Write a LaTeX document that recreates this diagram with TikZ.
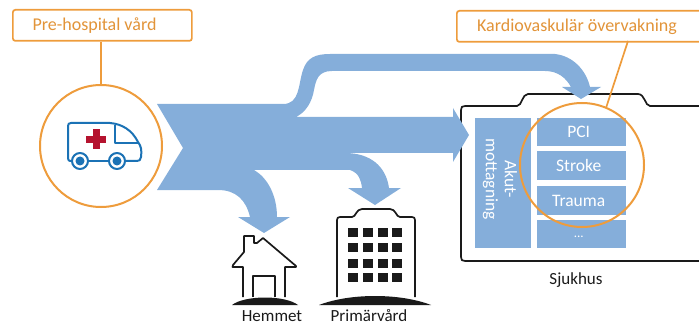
\documentclass[tikz,border=0pt]{standalone}
\usepackage{fontspec}
\setmainfont{Carlito}
\definecolor{flow}{HTML}{85AEDA}
\definecolor{tag}{HTML}{EE9C3C}
\definecolor{amb}{HTML}{1B72B5}
\definecolor{crossred}{HTML}{B5132F}
\definecolor{ink}{HTML}{1A1A1A}
\tikzset{
  tagbox/.style={draw=tag,line width=1.7pt,rounded corners=2.5pt,fill=white,anchor=north west,inner sep=0pt},
  tagtext/.style={text=tag!95!black,font=\fontsize{18}{20}\selectfont},
  tagline/.style={draw=tag,line width=1.7pt},
  ring/.style={draw=tag,line width=2pt,circle,inner sep=0pt,minimum size=#1},
  ward/.style={fill=flow,anchor=north west,inner sep=0pt,text=white,font=\fontsize{17.5}{19}\selectfont,execute at begin node={\hspace*{-6pt}}},
  cap1/.style={text=ink,inner sep=0pt,font=\fontsize{17}{19}\selectfont},
  outline/.style={draw=ink,line width=1.7pt,line join=round},
  ambline/.style={draw=amb,line width=2pt,line join=round}
}
\begin{document}
\begin{tikzpicture}[x=1pt,y=-1pt]
\useasboundingbox (0,0) rectangle (699,326);
\begin{scope}
\clip (0,0) rectangle (699,326);
% hospital outline
\draw[outline] (705,106) -- (650,106) .. controls (645,106) and (645,94) .. (638,94)
  -- (528,94) .. controls (522,94) and (522,106) .. (517,106) -- (465,106)
  .. controls (462,106) and (461,107) .. (461,110) -- (461,257)
  .. controls (461,260) and (462,261) .. (465,261) -- (705,261);
% flow
\fill[flow] (157,104) -- (283,104) .. controls (300,104) and (298,85) .. (303,70)
  .. controls (307,58) and (315,54) .. (330,54) -- (555,54)
  .. controls (573,56) and (586,70) .. (590,87) -- (601,87) -- (581,99) -- (562,87) -- (571,87)
  .. controls (566,78) and (558,71) .. (545,71) -- (332,71)
  .. controls (318,71) and (316,80) .. (314,90) .. controls (312,102) and (306,112) .. (296,117)
  -- (453,117) -- (453,108) -- (469,135) -- (453,162) -- (453,153) -- (345,153)
  .. controls (370,153) and (386,166) .. (389,188) -- (401,188) -- (375,205) -- (348,188) -- (362,188)
  .. controls (361,180) and (359,173) .. (350,170) -- (254,170)
  .. controls (268,178) and (277,196) .. (277,217) -- (290,217) -- (264,233) -- (238,217) -- (250,217)
  .. controls (246,200) and (236,190) .. (218,190) -- (157,190) -- (183,148) -- cycle;
% wards
\node[ward,minimum width=56pt,minimum height=130pt,execute at begin node={}] (akut) at (475,118) {};
\node[rotate=-90,align=center,text=white,font=\fontsize{17.5}{19}\selectfont] (akutt) at (500,179) {Akut-\\mottagning};
\node[ward,minimum width=89pt,minimum height=28pt] (pci) at (537,118) {PCI};
\node[ward,minimum width=89pt,minimum height=29pt] (stroke) at (537,151) {Stroke};
\node[ward,minimum width=89pt,minimum height=29pt] (trauma) at (537,186) {Trauma};
\node[ward,minimum width=89pt,minimum height=28pt] (more) at (537,220) {\raisebox{-6pt}{\fontsize{13}{14}\selectfont ...}};
% rings and tags
\node[ring=122pt,fill=white] (amb) at (101,146) {};
\node[ring=124pt] (cardio) at (582,165) {};
\node[tagbox,minimum width=179pt,minimum height=31pt] (pre) at (12,9) {};
\node[tagtext] (pret) at (94.5,25.5) {Pre-hospital vård};
\node[tagbox,minimum width=260pt,minimum height=31pt] (kard) at (456,10) {};
\node[tagtext] (kardt) at (577,27) {Kardiovaskulär övervakning};
\draw[tagline] (pre.south -| amb.north) -- (amb.north);
\coordinate (kardfoot) at (628,41);
\coordinate (ringfoot) at (606,108);
\draw[tagline] (kardfoot) -- (ringfoot);
% ambulance
\draw[ambline] (71,161) -- (70,161) .. controls (69,161) and (68,160) .. (68,158) -- (68,126)
  .. controls (68,124) and (69,123) .. (71,123) -- (110,123) .. controls (122,124) and (132,130) .. (138,142)
  .. controls (141,146) and (142,150) .. (141,157) .. controls (141,160) and (139,161) .. (137,161) -- (126,161);
\draw[ambline] (89,161) -- (108,161);
\draw[ambline] (115,125) -- (115,143) -- (138,143);
\draw[ambline,fill=white] (80,161) circle (8);
\draw[ambline,fill=white] (117,161) circle (8);
\fill[amb] (80,161) circle (4.5);
\fill[amb] (117,161) circle (4.5);
\fill[crossred] (92.5,129.5) rectangle (99.5,149.5);
\fill[crossred] (86,136) rectangle (106,143);
% house
\draw[outline] (243,297) -- (243,267) -- (232.5,267) .. controls (232,266) and (232,266) .. (233,265)
  -- (244,252) -- (244,236) -- (254,236) -- (254,243) -- (257,243) -- (263,238) -- (296,266) -- (296,267) -- (285,267) -- (285,297);
\draw[outline] (253,297) -- (253,276) -- (275,276) -- (275,297);
\fill[ink] (232,305) .. controls (245,295) and (285,295) .. (298,305) -- cycle;
% building
\draw[outline] (337,297) -- (337,220) .. controls (337,218) and (338,217) .. (340,217) -- (352,217)
  .. controls (356,217) and (356,209) .. (362,209) -- (390,209) .. controls (396,209) and (396,217) .. (400,217)
  -- (412,217) .. controls (414,217) and (415,218) .. (415,220) -- (415,297);
\foreach \cx in {353,368,383,397}
  \foreach \cy in {232,247,263,277}
    \fill[ink] (\cx-5,\cy-4.5) rectangle (\cx+5,\cy+4.5);
\fill[ink] (319,305) .. controls (350,293) and (400,293) .. (431,305) -- cycle;
% captions
\node[cap1] (hem) at (272,316) {Hemmet};
\node[cap1] (prim) at (369,316) {Primärvård};
\node[cap1] (sjuk) at (576,280) {Sjukhus};
\end{scope}
\end{tikzpicture}
\end{document}
